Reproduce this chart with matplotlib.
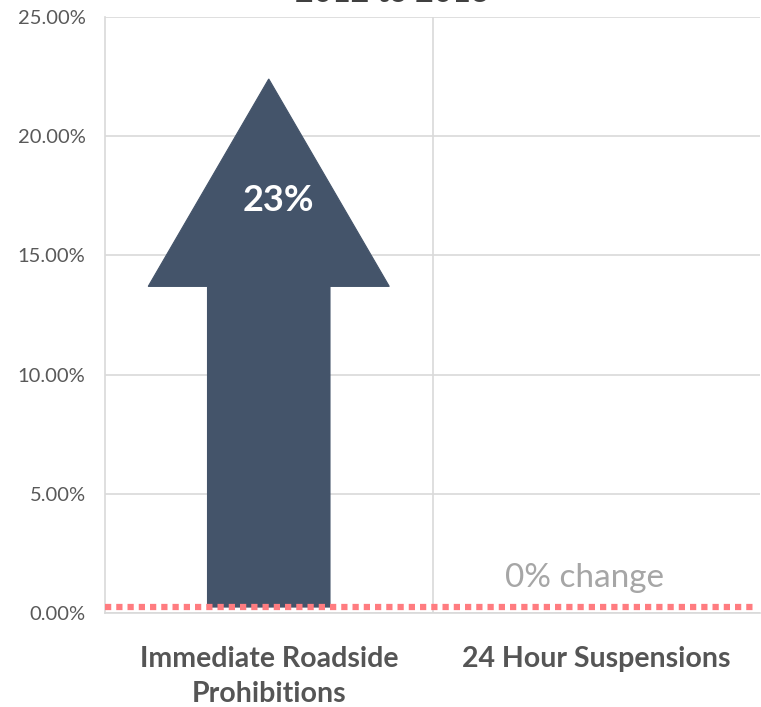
import matplotlib
matplotlib.use("Agg")
import matplotlib.pyplot as plt
from matplotlib.patches import Polygon
from matplotlib.ticker import FuncFormatter, FixedLocator

# ---- data ----
categories = ["Immediate Roadside\nProhibitions", "24 Hour Suspensions"]
change_labels = ["23%", "0% change"]
arrow_top = [22.4, 0.0]        # arrow tip height (%)
head_base = [13.7, 0.0]        # arrow head base height (%)
baseline = 0.25                # dotted reference line (%)
yticks = [0, 5, 10, 15, 20, 25]
title = "2012 to 2013"

plt.rcParams['font.family'] = ['Lato', 'DejaVu Sans']

fig = plt.figure(figsize=(7.61, 7.07), dpi=100)
ax = fig.add_axes([105/761, 1-613/707, 655/761, (613-17)/707])

ax.set_xlim(-0.5, 1.5)
ax.set_ylim(0, 25)
ax.set_yticks(yticks)
ax.yaxis.set_major_formatter(FuncFormatter(lambda v, p: f"{v:.2f}%"))
ax.set_xticks(range(len(categories)))
ax.set_xticklabels(categories, fontsize=20.5, fontweight='bold', color='#555555',
                   linespacing=1.4)
ax.tick_params(axis='y', labelsize=14.5, labelcolor='#595959', length=0, pad=14)
ax.tick_params(axis='x', length=0, pad=24)

ax.grid(axis='y', color='#D9D9D9', linewidth=1.2)
ax.xaxis.set_minor_locator(FixedLocator([0.5]))
ax.grid(axis='x', which='minor', color='#D9D9D9', linewidth=1.2)
ax.tick_params(axis='x', which='minor', length=0)
ax.set_axisbelow(True)
for s in ['top', 'right']:
    ax.spines[s].set_visible(False)
for s in ['left', 'bottom']:
    ax.spines[s].set_color('#D9D9D9')
    ax.spines[s].set_linewidth(1.2)

arrow_color = '#44546A'
shaft_half = 0.187
head_half = 0.368
for i, (top, hb) in enumerate(zip(arrow_top, head_base)):
    if top <= 0:
        continue
    pts = [(i - shaft_half, baseline), (i + shaft_half, baseline),
           (i + shaft_half, hb), (i + head_half, hb), (i, top),
           (i - head_half, hb), (i - shaft_half, hb)]
    ax.add_patch(Polygon(pts, closed=True, facecolor=arrow_color,
                         edgecolor=arrow_color, linewidth=0.8, zorder=3))
    ax.text(i + 0.03, 17.3, change_labels[i], ha='center', va='center',
            color='white', fontsize=26, fontweight='bold', zorder=4)

ax.text(0.963, 1.45, change_labels[1], ha='center', va='center',
        color='#A6A6A6', fontsize=24, zorder=4)

ax.plot([-0.5, 1.48], [baseline, baseline], linestyle=(0, (1, 0.8)),
        color='#FF7C80', linewidth=4.5, zorder=5,
        dash_capstyle='butt', clip_on=False)

fig.text(0.516, 1 - 7/707, title, ha='center', va='bottom',
         fontsize=23, fontweight='bold', color='#404040')

fig.savefig("out.png", dpi=100)
